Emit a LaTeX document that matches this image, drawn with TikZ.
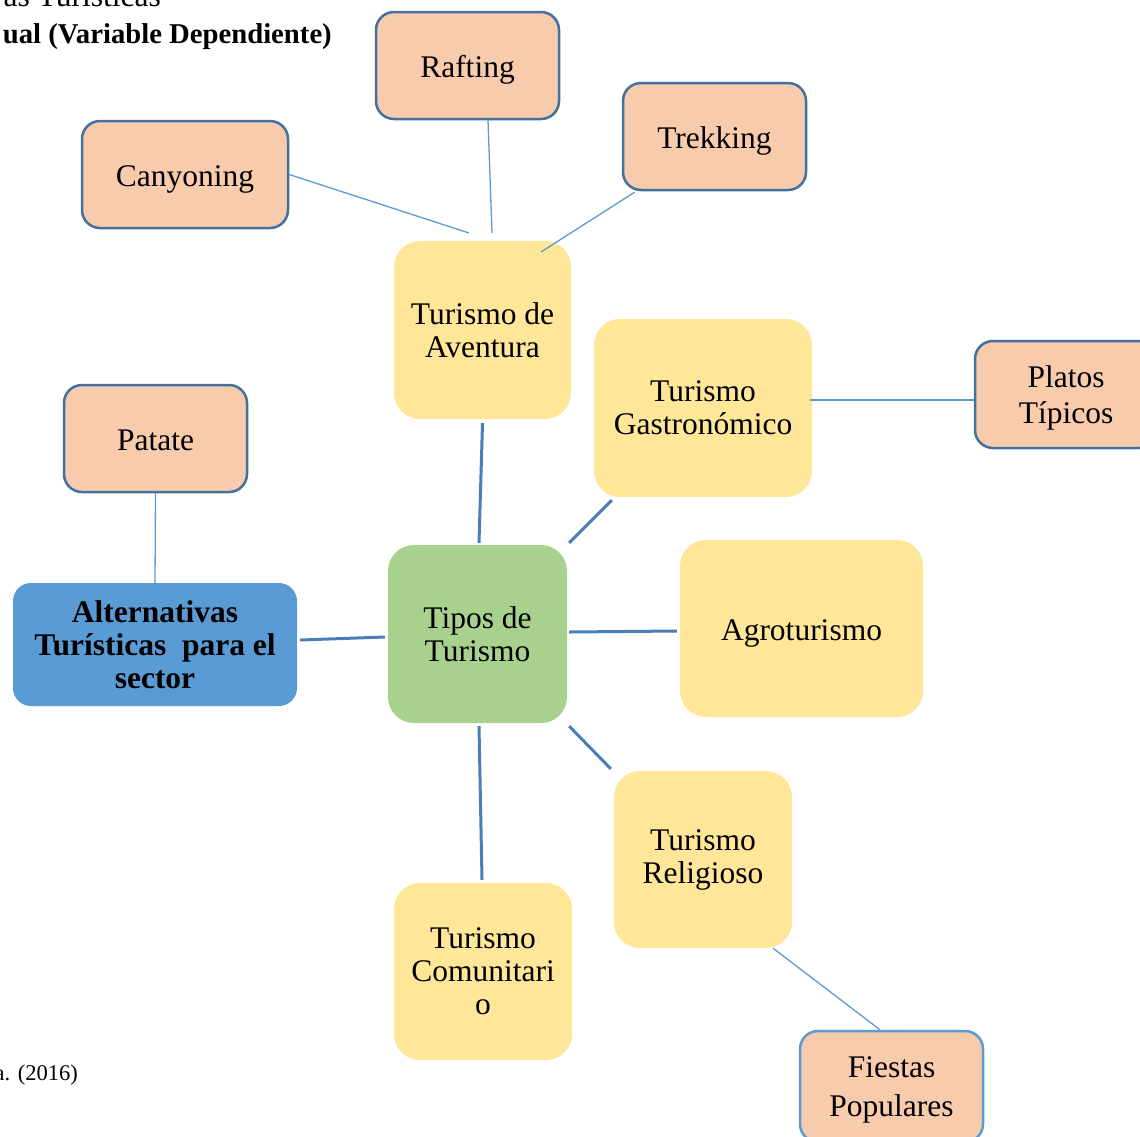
\documentclass[tikz,border=0pt]{standalone}
\usepackage{fontspec}
\setmainfont{Liberation Serif}
\definecolor{peachfill}{HTML}{F8CBAD}
\definecolor{darkedge}{HTML}{41719C}
\definecolor{lightedge}{HTML}{5B9BD5}
\definecolor{yellowfill}{HTML}{FFE699}
\definecolor{greenfill}{HTML}{A9D18E}
\definecolor{bluefill}{HTML}{5B9BD5}
\definecolor{thickline}{HTML}{4A7EBB}
\tikzset{
  base/.style={inner sep=0pt, align=center, font=\fontsize{31.5}{33}\selectfont},
  oneline/.style={text height=24pt, text depth=0pt},
  peach/.style={base, fill=peachfill, draw=darkedge, line width=2.5pt, rounded corners=18pt, minimum width=183pt, minimum height=107pt},
  yellowbox/.style={base, fill=yellowfill, rounded corners=26pt, minimum width=178pt, minimum height=178pt},
  thin/.style={draw=lightedge, line width=1.3pt},
  thick/.style={draw=thickline, line width=3pt},
}
\begin{document}
\begin{tikzpicture}[x=1pt,y=-1pt]
\useasboundingbox (0,0) rectangle (1140,1136);
\clip (0,0) rectangle (1140,1136);
\fill[white] (0,0) rectangle (1140,1136);

% header / footer texts (as far as the picture shows them)
\node[anchor=base east, inner sep=0pt, font=\fontsize{31.5}{33}\selectfont] (hdrA) at (161,6) {as Turísticas};
\node[anchor=base east, inner sep=0pt, font=\fontsize{28.7}{31}\selectfont\bfseries] (hdrB) at (332,43) {ual (Variable Dependiente)};
\node[anchor=base east, inner sep=0pt, font=\fontsize{22.5}{26}\selectfont] (src) at (78,1080) {a. (2016)};

% nodes
\node[peach, oneline] (raft) at (467.5,65.5) {Rafting};
\node[peach, oneline] (trek) at (714.5,136.5) {Trekking};
\node[peach, oneline, minimum width=206pt] (cany) at (185,174.5) {Canyoning};
\node[yellowbox, minimum width=177pt] (avent) at (482.5,330) {Turismo de\\Aventura};
\node[yellowbox, minimum width=218pt] (gastro) at (703,408) {Turismo\\Gastronómico};
\node[peach, minimum width=182pt, text depth=0pt, font=\fontsize{31.5}{36}\selectfont] (platos) at (1066,394.5) {Platos\\Típicos};
\node[peach, oneline] (patate) at (155.5,438.5) {Patate};
\node[base, fill=bluefill, rounded corners=18pt, minimum width=284pt, minimum height=123pt, font=\fontsize{31.5}{33}\selectfont\bfseries] (alt) at (155,644.5) {Alternativas\\Turísticas~ para el\\sector};
\node[yellowbox, fill=greenfill, minimum width=179pt] (tipos) at (477.5,634) {Tipos de\\Turismo};
\node[yellowbox, oneline, minimum width=243pt, minimum height=177pt] (agro) at (801.5,628.5) {Agroturismo};
\node[yellowbox, minimum width=178pt, minimum height=177pt] (relig) at (703,859.5) {Turismo\\Religioso};
\node[yellowbox, minimum width=178pt, minimum height=177pt] (comun) at (483,971.5) {Turismo\\Comunitari\\o};
\node[peach, draw=lightedge, minimum width=183pt, minimum height=111pt, text depth=0pt, font=\fontsize{31.5}{39}\selectfont] (fiestas) at (891.5,1086.5) {Fiestas\\Populares};

% free ends of the thin connectors
\coordinate (canyEnd) at (469,233);
\coordinate (raftEnd) at (492,233);
\coordinate (trekEnd) at (541,252);

% thin connectors
\draw[thin] (cany.east) -- (canyEnd);
\draw[thin] ([xshift=20.5pt]raft.south) -- (raftEnd);
\draw[thin] ([xshift=-80pt,yshift=-1pt]trek.south) -- (trekEnd);
\draw[thin] ([xshift=-2pt,yshift=8pt]gastro.east) -- ([yshift=-5.5pt]platos.west);
\draw[thin] (patate.south) -- (alt.north);
\draw[thin] ([xshift=70pt]relig.south) -- ([xshift=-11.5pt]fiestas.north);

% thick connectors
\draw[thick] ([yshift=-4pt]avent.south) -- ([xshift=1.5pt,yshift=2pt]tipos.north);
\draw[thick] ([xshift=2pt,yshift=2pt]tipos.north east) -- ([xshift=18pt,yshift=-3pt]gastro.south west);
\draw[thick] ([xshift=2pt,yshift=2pt]tipos.east) -- ([xshift=-3pt,yshift=-2.5pt]agro.west);
\draw[thick] ([xshift=3pt,yshift=4.5pt]alt.east) -- ([xshift=-3pt,yshift=-3pt]tipos.west);
\draw[thick] ([xshift=2pt,yshift=-3pt]tipos.south east) -- ([xshift=-3pt,yshift=2pt]relig.north west);
\draw[thick] ([xshift=1.5pt,yshift=-3pt]tipos.south) -- ([xshift=-1pt,yshift=3pt]comun.north);
\end{tikzpicture}
\end{document}
